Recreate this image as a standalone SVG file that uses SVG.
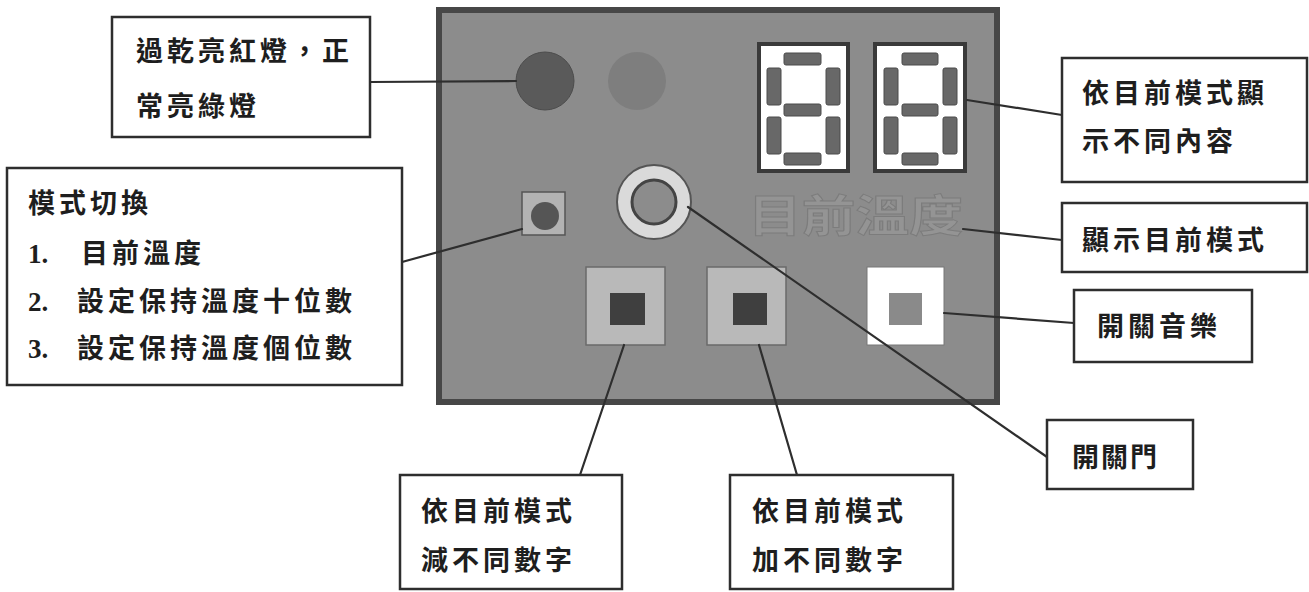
<svg xmlns="http://www.w3.org/2000/svg" width="1309" height="592" viewBox="0 0 1309 592">
<defs>
<style>
.box{fill:#fff;stroke:#2e2e2e;stroke-width:2.5}
.t{font-family:"Noto Sans CJK TC","Noto Sans CJK SC",sans-serif;font-weight:700;font-size:27px;letter-spacing:4px;fill:#1e1e1e}
.num{font-family:"Liberation Serif",serif;font-weight:700;font-size:27px;letter-spacing:0px;fill:#1e1e1e}
.seg{fill:#686868;stroke:#4a4a4a;stroke-width:1}
.disp{fill:#fff;stroke:#3a3a3a;stroke-width:4}
.con{stroke:#2e2e2e;stroke-width:2.2;fill:none;stroke-linecap:round}
.btn{fill:#b9b9b9;stroke:#6a6a6a;stroke-width:1.5}
</style>
</defs>
<rect width="1309" height="592" fill="#fff"/>

<g id="panel">
<rect x="439" y="10" width="558" height="392" fill="#8c8c8c" stroke="#474747" stroke-width="6"/>
</g>
<g id="lamp-red"><circle cx="545" cy="81" r="29" fill="#5a5a5a" stroke="#4c4c4c" stroke-width="1"/></g>
<g id="lamp-green"><circle cx="637" cy="81" r="29" fill="#7e7e7e"/></g>
<g id="display-1">
<rect class="disp" x="759" y="44" width="89" height="127"/>
<rect class="seg" x="784" y="53" width="37" height="12" rx="2"/>
<rect class="seg" x="767" y="68" width="14" height="37" rx="2"/>
<rect class="seg" x="826" y="68" width="14" height="37" rx="2"/>
<rect class="seg" x="784" y="104" width="37" height="12" rx="2"/>
<rect class="seg" x="767" y="117" width="14" height="37" rx="2"/>
<rect class="seg" x="826" y="117" width="14" height="37" rx="2"/>
<rect class="seg" x="784" y="153" width="37" height="12" rx="2"/>
</g>
<g id="display-2">
<rect class="disp" x="875" y="44" width="90" height="127"/>
<rect class="seg" x="902" y="53" width="36" height="12" rx="2"/>
<rect class="seg" x="884" y="68" width="14" height="37" rx="2"/>
<rect class="seg" x="943" y="68" width="14" height="37" rx="2"/>
<rect class="seg" x="902" y="104" width="36" height="12" rx="2"/>
<rect class="seg" x="884" y="117" width="14" height="37" rx="2"/>
<rect class="seg" x="943" y="117" width="14" height="37" rx="2"/>
<rect class="seg" x="902" y="153" width="36" height="12" rx="2"/>
</g>
<g id="mode-switch">
<rect x="522" y="192" width="43" height="43" fill="#b3b3b3" stroke="#555" stroke-width="1.5"/>
<circle cx="545" cy="216" r="14" fill="#555"/>
</g>
<g id="door-ring">
<circle cx="654" cy="202" r="37" fill="#dadada" stroke="#555" stroke-width="2"/>
<circle cx="654" cy="202" r="22" fill="#8c8c8c" stroke="#444" stroke-width="3"/>
</g>
<g id="mode-text">
<text x="748" y="232" font-family="Noto Sans CJK TC, sans-serif" font-weight="700" font-size="44" fill="#949494" stroke="#7c7c7c" stroke-width="1" textLength="215" lengthAdjust="spacingAndGlyphs">目前溫度</text>
</g>
<g id="btn-minus">
<rect class="btn" x="586" y="267" width="79" height="78"/>
<rect x="610" y="293" width="35" height="32" fill="#3f3f3f"/>
</g>
<g id="btn-plus">
<rect class="btn" x="707" y="267" width="79" height="78"/>
<rect x="733" y="293" width="34" height="32" fill="#3f3f3f"/>
</g>
<g id="btn-music">
<rect x="867" y="267" width="77" height="78" fill="#fff" stroke="#777" stroke-width="1"/>
<rect x="889" y="293" width="33" height="32" fill="#8a8a8a"/>
</g>

<g id="connectors">
<line class="con" x1="370" y1="82" x2="516" y2="81"/>
<line class="con" x1="402" y1="262" x2="522" y2="229"/>
<line class="con" x1="967" y1="100" x2="1062" y2="115"/>
<line class="con" x1="963" y1="229" x2="1062" y2="240"/>
<line class="con" x1="944" y1="313" x2="1074" y2="323"/>
<line class="con" x1="688" y1="207" x2="1047" y2="457" stroke-width="2.5"/>
<line class="con" x1="624" y1="345" x2="580" y2="475" stroke-width="3"/>
<line class="con" x1="759" y1="345" x2="797" y2="475" stroke-width="3"/>
</g>

<g id="label-lamp">
<rect class="box" x="112" y="17" width="258" height="120"/>
<text class="t" x="136" y="61">過乾亮紅燈，正</text>
<text class="t" x="136" y="116">常亮綠燈</text>
</g>
<g id="label-mode">
<rect class="box" x="7" y="168" width="395" height="217"/>
<text class="t" x="28" y="213">模式切換</text>
<text class="t" y="263"><tspan class="num" x="28">1.</tspan><tspan x="81">目前溫度</tspan></text>
<text class="t" y="311"><tspan class="num" x="28">2.</tspan><tspan x="77">設定保持溫度十位數</tspan></text>
<text class="t" y="358"><tspan class="num" x="28">3.</tspan><tspan x="77">設定保持溫度個位數</tspan></text>
</g>
<g id="label-display">
<rect class="box" x="1062" y="58" width="245" height="124"/>
<text class="t" x="1082" y="103">依目前模式顯</text>
<text class="t" x="1082" y="151">示不同內容</text>
</g>
<g id="label-showmode">
<rect class="box" x="1062" y="203" width="245" height="69"/>
<text class="t" x="1082" y="250">顯示目前模式</text>
</g>
<g id="label-music">
<rect class="box" x="1074" y="290" width="178" height="72"/>
<text class="t" x="1097" y="336">開關音樂</text>
</g>
<g id="label-door">
<rect class="box" x="1047" y="420" width="146" height="69"/>
<text class="t" x="1072" y="467" style="letter-spacing:2px">開關門</text>
</g>
<g id="label-minus">
<rect class="box" x="400" y="475" width="222" height="114"/>
<text class="t" x="421" y="521">依目前模式</text>
<text class="t" x="421" y="570">減不同數字</text>
</g>
<g id="label-plus">
<rect class="box" x="730" y="475" width="223" height="114"/>
<text class="t" x="752" y="521">依目前模式</text>
<text class="t" x="752" y="570">加不同數字</text>
</g>
</svg>
